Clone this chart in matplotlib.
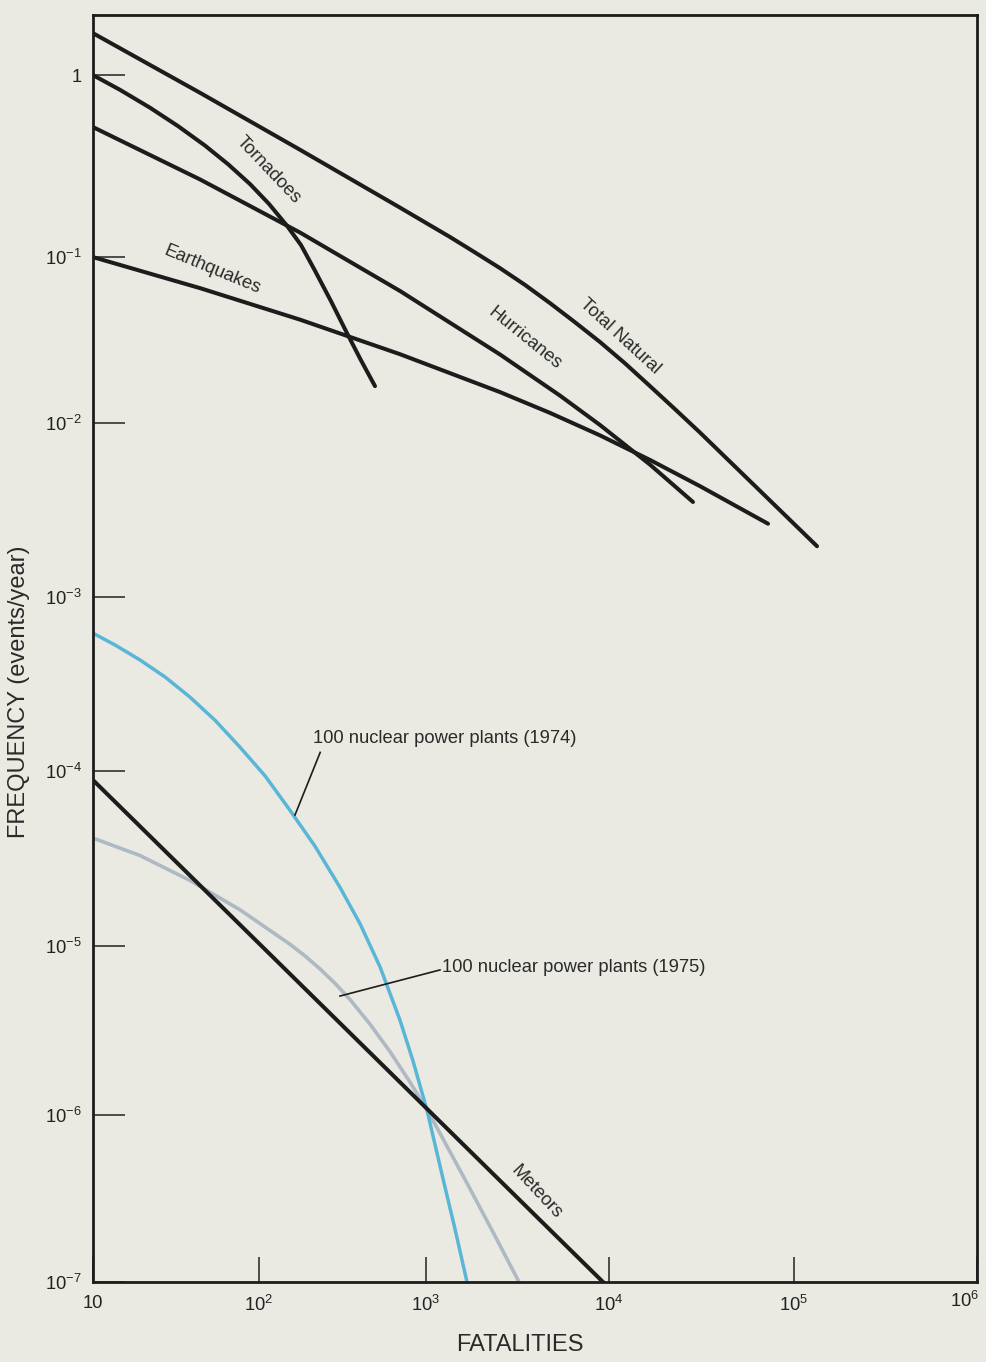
import numpy as np
import matplotlib
matplotlib.use('Agg')
import matplotlib.pyplot as plt

plt.rcParams['font.family'] = ['Liberation Sans', 'DejaVu Sans']
plt.rcParams['mathtext.fontset'] = 'custom'
plt.rcParams['mathtext.rm'] = 'Liberation Sans'
plt.rcParams['mathtext.it'] = 'Liberation Sans:italic'

# values (fatalities, events/year)
tn_x = [10, 44.2, 176, 699, 1352, 1852, 2538, 3475, 4761, 6520, 8930, 12210,
        16660, 22740, 31040, 57840, 133600]
tn_y = [1.70, 0.799, 0.389, 0.187, 0.129, 0.1061, 0.0858, 0.0680, 0.0528, 0.0405,
        0.0308, 0.0229, 0.0167, 0.01213, 0.00882, 0.00464, 0.00196]

hur_x = [10, 44.2, 176, 699, 2538, 5398, 8930, 16660, 28440]
hur_y = [0.518, 0.267, 0.1365, 0.0625, 0.0259, 0.01464, 0.00975, 0.00577, 0.00352]

eq_x = [10, 44.2, 176, 699, 2538, 4761, 8930, 16660, 31040, 72360]
eq_y = [0.1, 0.0650, 0.0420, 0.0260, 0.01537, 0.01152, 0.00850, 0.00614,
        0.00434, 0.00264]

tor_x = [10, 14.55, 22.0, 32.5, 47.3, 65.1, 88.3, 114.8, 147, 178.4, 216, 270,
         336, 408, 495]
tor_y = [1.0, 0.830, 0.663, 0.525, 0.410, 0.324, 0.252, 0.196, 0.1488, 0.1165,
         0.0831, 0.0542, 0.0349, 0.0239, 0.0167]

met_x = [10, 9270]
met_y = [8.88e-5, 1e-7]

n74_x = [10, 13.6, 19.2, 27.2, 38.4, 54.3, 76.9, 109, 153, 216, 305, 403, 531,
         698, 836, 1012, 1254, 1440, 1675]
n74_y = [6.2e-4, 5.30e-4, 4.35e-4, 3.47e-4, 2.66e-4, 1.96e-4, 1.37e-4, 9.36e-5,
         5.98e-5, 3.73e-5, 2.17e-5, 1.34e-5, 7.51e-6, 3.65e-6, 2.09e-6, 1.07e-6,
         3.92e-7, 2.08e-7, 1e-7]

n75_x = [10, 19.2, 38.4, 76.9, 153, 188.6, 232, 285, 351, 462, 609, 802, 1052,
         1654, 2323, 3223]
n75_y = [4.14e-5, 3.29e-5, 2.37e-5, 1.61e-5, 1.025e-5, 8.74e-6, 7.32e-6, 6.02e-6,
         4.82e-6, 3.45e-6, 2.37e-6, 1.566e-6, 1.0e-6, 4.01e-7, 1.99e-7, 1e-7]

x_ticks = [10, 1e2, 1e3, 1e4, 1e5, 1e6]
x_labels = ['10', r'$\mathregular{10^2}$', r'$\mathregular{10^3}$',
            r'$\mathregular{10^4}$', r'$\mathregular{10^5}$', '']
y_ticks = [1, 1e-1, 1e-2, 1e-3, 1e-4, 1e-5, 1e-6, 1e-7]
y_labels = ['1'] + [r'$\mathregular{10^{-%d}}$' % k for k in range(1, 8)]

# the printed decades are not quite even, so map each one to its place on the page
LX_KNOTS = [0, 1, 2, 3, 4, 5, 6, 7]
X_PIX = [-73, 93, 259, 426, 609, 794, 977, 1160]
LY_KNOTS = [-8, -7, -6, -5, -4, -3, -2, -1, 0, 1]
Y_NEG = [-1449, -1282, -1115, -946, -771, -597, -423, -257, -75, 107]


def fwd_x(v):
    return np.interp(np.log10(np.maximum(v, 1e-30)), LX_KNOTS, X_PIX)


def inv_x(p):
    return 10 ** np.interp(p, X_PIX, LX_KNOTS)


def fwd_y(v):
    return np.interp(np.log10(np.maximum(v, 1e-30)), LY_KNOTS, Y_NEG)


def inv_y(p):
    return 10 ** np.interp(p, Y_NEG, LY_KNOTS)


BG = '#eaeae2'
INK = '#1c1c1c'
FS = 13.2

fig = plt.figure(figsize=(9.86, 13.62), dpi=100)
fig.patch.set_facecolor(BG)
ax = fig.add_axes([93 / 986, 80 / 1362, 884 / 986, 1267 / 1362])
ax.set_facecolor(BG)
ax.set_xscale('function', functions=(fwd_x, inv_x))
ax.set_yscale('function', functions=(fwd_y, inv_y))

ax.plot(n75_x, n75_y, color='#aeb9c3', lw=2.6, solid_capstyle='butt',
        solid_joinstyle='round')
ax.plot(n74_x, n74_y, color='#5ab6d6', lw=2.5, solid_capstyle='butt',
        solid_joinstyle='round')
ax.plot(met_x, met_y, color=INK, lw=2.9)
for xs, ys in [(tn_x, tn_y), (hur_x, hur_y), (eq_x, eq_y), (tor_x, tor_y)]:
    ax.plot(xs, ys, color=INK, lw=2.9, solid_joinstyle='round', solid_capstyle='round')

ax.set_xlim(10, 1e6)
ax.set_ylim(1e-7, 2.14)

ax.set_xticks(x_ticks)
ax.set_xticklabels(x_labels)
ax.set_yticks(y_ticks)
ax.set_yticklabels(y_labels)
ax.minorticks_off()
ax.tick_params(axis='y', direction='in', length=23, width=1.1, pad=8,
               labelsize=FS, colors='#222222')
ax.tick_params(axis='x', direction='in', length=18, width=1.1, pad=9,
               labelsize=FS, colors='#222222')
for s in ax.spines.values():
    s.set_linewidth(2.0)
    s.set_color(INK)
# last x label sits against the page edge
ax.annotate(r'$\mathregular{10^6}$', xy=(1, 0), xycoords='axes fraction',
            xytext=(-9, -6.5), textcoords='offset points', ha='center', va='top',
            fontsize=FS, color='#222222')

lab = dict(transform=ax.transAxes, ha='center', va='center', fontsize=FS,
           color='#2a2a2a', rotation_mode='anchor')
ax.text(0.198, 0.878, 'Tornadoes', rotation=-46.5, **lab)
ax.text(0.135, 0.799, 'Earthquakes', rotation=-22.5, **lab)
ax.text(0.489, 0.745, 'Hurricanes', rotation=-39, **lab)
ax.text(0.596, 0.746, 'Total Natural', rotation=-42.5, **lab)
ax.text(0.502, 0.071, 'Meteors', rotation=-47, **lab)

ax.text(0.249, 0.429, '100 nuclear power plants (1974)', transform=ax.transAxes,
        ha='left', va='center', fontsize=FS, color='#2a2a2a')
ax.plot([0.257, 0.2285], [0.418, 0.3686], transform=ax.transAxes, color=INK, lw=1.2)
ax.text(0.395, 0.248, '100 nuclear power plants (1975)', transform=ax.transAxes,
        ha='left', va='center', fontsize=FS, color='#2a2a2a')
ax.plot([0.3925, 0.2794], [0.2463, 0.2257], transform=ax.transAxes, color=INK, lw=1.2)

fig.text(19 / 986, 1 - 692 / 1362, 'FREQUENCY (events/year)', rotation=90,
         ha='center', va='center', fontsize=17, color='#2a2a2a')
fig.text(520 / 986, 1 - 1345 / 1362, 'FATALITIES', ha='center', va='center',
         fontsize=17, color='#2a2a2a')

fig.savefig('out.png', dpi=100, facecolor=BG)
